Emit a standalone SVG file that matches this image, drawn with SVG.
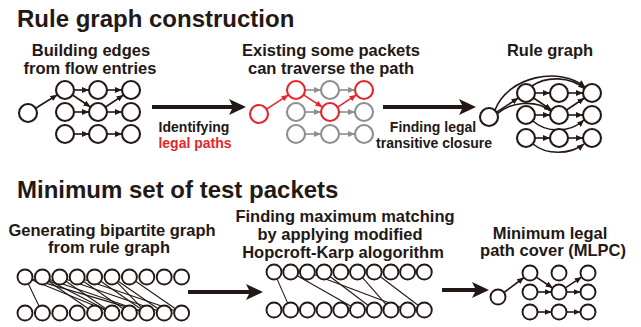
<svg xmlns="http://www.w3.org/2000/svg" width="641" height="327" viewBox="0 0 641 327">
  <style>
    text { font-family: "Liberation Sans", Arial, sans-serif; font-weight: bold; fill: #231815; }
    .title { font-size: 24px; }
    .lbl { font-size: 16.5px; text-anchor: middle; }
    .sm { font-size: 14px; text-anchor: middle; }
    .red { fill: #e8242b; }
    circle { fill: #ffffff; stroke-width: 2.1; }
    .n { stroke: #231815; }
    .nr { stroke: #e8242b; }
    .ng { stroke: #8e8e8e; }
    .nb { stroke: #231815; stroke-width: 1.9; }
    .e { stroke: #231815; stroke-width: 1.6; fill: none; marker-end: url(#ah); }
    .er { stroke: #e8242b; stroke-width: 1.6; fill: none; marker-end: url(#ahr); }
    .eg { stroke: #8e8e8e; stroke-width: 1.6; fill: none; marker-end: url(#ahg); }
    .bl { stroke: #231815; stroke-width: 1.1; }
    .shaft { stroke: #231815; stroke-width: 4.2; }
    .head { fill: #231815; }
  </style>
  <defs>
    <marker id="ah" markerUnits="userSpaceOnUse" markerWidth="7" markerHeight="6" refX="7" refY="3" orient="auto">
      <path d="M0,0 L7,3 L0,6 z" fill="#231815"/>
    </marker>
    <marker id="ahr" markerUnits="userSpaceOnUse" markerWidth="7" markerHeight="6" refX="7" refY="3" orient="auto">
      <path d="M0,0 L7,3 L0,6 z" fill="#e8242b"/>
    </marker>
    <marker id="ahg" markerUnits="userSpaceOnUse" markerWidth="7" markerHeight="6" refX="7" refY="3" orient="auto">
      <path d="M0,0 L7,3 L0,6 z" fill="#8e8e8e"/>
    </marker>
  </defs>

  <!-- section titles -->
  <text class="title" x="17" y="27">Rule graph construction</text>
  <text class="title" x="17" y="198">Minimum set of test packets</text>

  <!-- step captions -->
  <text class="lbl" x="91" y="56">Building edges</text>
  <text class="lbl" x="90" y="74">from flow entries</text>
  <text class="lbl" x="331" y="56">Existing some packets</text>
  <text class="lbl" x="331" y="74">can traverse the path</text>
  <text class="lbl" x="550" y="56">Rule graph</text>
  <text class="sm" x="194" y="132">Identifying</text>
  <text class="sm red" x="195" y="148">legal paths</text>
  <text class="sm" x="433" y="132">Finding legal</text>
  <text class="sm" x="434" y="148">transitive closure</text>
  <text class="lbl" x="112" y="236">Generating bipartite graph</text>
  <text class="lbl" x="109" y="253">from rule graph</text>
  <text class="lbl" x="345" y="222">Finding maximum matching</text>
  <text class="lbl" x="340" y="240">by applying modified</text>
  <text class="lbl" x="343" y="258">Hopcroft-Karp alogorithm</text>
  <text class="lbl" x="550" y="239">Minimum legal</text>
  <text class="lbl" x="553" y="256">path cover (MLPC)</text>

  <!-- step arrows -->
  <g id="step-arrows">
    <line class="shaft" x1="152" y1="107" x2="233" y2="107"/>
    <polygon class="head" points="229,99 246,107 229,115 233,107"/>
    <line class="shaft" x1="383" y1="107" x2="463" y2="107"/>
    <polygon class="head" points="459,99 476,107 459,115 463,107"/>
    <line class="shaft" x1="188" y1="292" x2="250" y2="292"/>
    <polygon class="head" points="246,284 263,292 246,300 250,292"/>
    <line class="shaft" x1="442" y1="290" x2="476" y2="290"/>
    <polygon class="head" points="472,282 489,290 472,298 476,290"/>
  </g>

  <!-- connectors (drawn beneath the white-filled nodes) -->
  <g id="connectors">
    <!-- graph 1 -->
    <line class="e" x1="35.6" y1="108.2" x2="57.4" y2="94.8"/>
    <line class="e" x1="74" y1="90" x2="89" y2="90"/>
    <line class="e" x1="107" y1="90" x2="122" y2="90"/>
    <line class="e" x1="72.5" y1="95" x2="90.5" y2="107"/>
    <line class="e" x1="74" y1="112" x2="89" y2="112"/>
    <line class="e" x1="105.5" y1="107" x2="123.5" y2="95"/>
    <line class="e" x1="107" y1="112" x2="122" y2="112"/>
    <line class="e" x1="74" y1="134" x2="89" y2="134"/>
    <line class="e" x1="107" y1="134" x2="122" y2="134"/>

    <!-- graph 2 -->
    <line class="er" x1="266.6" y1="109.1" x2="288.4" y2="94.9"/>
    <line class="eg" x1="305" y1="90" x2="321" y2="90"/>
    <line class="eg" x1="339" y1="90" x2="355" y2="90"/>
    <line class="er" x1="303.6" y1="94.9" x2="322.4" y2="107.1"/>
    <line class="eg" x1="305" y1="112" x2="321" y2="112"/>
    <line class="er" x1="337.6" y1="107.1" x2="356.4" y2="94.9"/>
    <line class="eg" x1="339" y1="112" x2="355" y2="112"/>
    <line class="eg" x1="305" y1="134" x2="321" y2="134"/>
    <line class="eg" x1="339" y1="134" x2="355" y2="134"/>

    <!-- graph 3 -->
    <line class="e" x1="496.6" y1="112.1" x2="518.4" y2="97.9"/>
    <line class="e" x1="535" y1="93" x2="550" y2="93"/>
    <line class="e" x1="568" y1="93" x2="583" y2="93"/>
    <line class="e" x1="533.5" y1="98" x2="551.5" y2="110"/>
    <line class="e" x1="535" y1="115" x2="550" y2="115"/>
    <line class="e" x1="566.5" y1="110" x2="584.5" y2="98"/>
    <line class="e" x1="568" y1="115" x2="583" y2="115"/>
    <line class="e" x1="535" y1="138" x2="550" y2="138"/>
    <line class="e" x1="568" y1="138" x2="583" y2="138"/>
    <path class="e" d="M495,110 C508,76 560,66 585,87"/>
    <path class="e" d="M532,86 C546,76 570,76 585,89"/>
    <path class="e" d="M497,114 C510,102 535,99 551,111"/>
    <path class="e" d="M533,121 C546,133 570,133 584,120"/>
    <path class="e" d="M533,144 C546,155 570,155 584,144"/>

    <!-- bipartite graph -->
    <line class="bl" x1="28.3" y1="283.8" x2="39.1" y2="306.2"/>
    <line class="bl" x1="31.9" y1="279.9" x2="105.1" y2="310.1"/>
    <line class="bl" x1="32.2" y1="279.1" x2="139.6" y2="310.9"/>
    <line class="bl" x1="48.6" y1="281.3" x2="88.4" y2="308.7"/>
    <line class="bl" x1="49.1" y1="280.4" x2="105.3" y2="309.6"/>
    <line class="bl" x1="49.5" y1="279.4" x2="139.7" y2="310.6"/>
    <line class="bl" x1="66" y1="281.3" x2="105.8" y2="308.7"/>
    <line class="bl" x1="66.9" y1="279.4" x2="157.1" y2="310.6"/>
    <line class="bl" x1="83.4" y1="281.3" x2="123.2" y2="308.7"/>
    <line class="bl" x1="84.3" y1="279.4" x2="174.5" y2="310.6"/>
    <line class="bl" x1="100.8" y1="281.3" x2="140.6" y2="308.7"/>
    <line class="bl" x1="117.2" y1="282.4" x2="141.6" y2="307.6"/>
    <line class="bl" x1="118.2" y1="281.3" x2="158" y2="308.7"/>
    <line class="bl" x1="135.6" y1="281.3" x2="175.4" y2="308.7"/>

    <!-- maximum matching -->
    <line class="bl" x1="277" y1="278.9" x2="287.7" y2="303.1"/>
    <line class="bl" x1="297.2" y1="275.7" x2="351" y2="306.3"/>
    <line class="bl" x1="314.4" y1="274.7" x2="400.6" y2="307.3"/>
    <line class="bl" x1="330" y1="276.5" x2="368.3" y2="305.5"/>
    <line class="bl" x1="362.5" y1="277.6" x2="386" y2="304.4"/>
    <line class="bl" x1="380.1" y1="276.5" x2="418.4" y2="305.5"/>

    <!-- minimum legal path cover -->
    <line class="e" x1="504" y1="292.5" x2="524" y2="277.5"/>
    <line class="e" x1="536.3" y1="277.1" x2="552.7" y2="288"/>
    <line class="e" x1="537.5" y1="292" x2="551.5" y2="292"/>
    <line class="e" x1="565.3" y1="287.9" x2="581.7" y2="277.1"/>
    <line class="e" x1="566.5" y1="292" x2="580.5" y2="292"/>
    <line class="e" x1="537.5" y1="312" x2="551.5" y2="312"/>
    <line class="e" x1="566.5" y1="312" x2="580.5" y2="312"/>
  </g>

  <!-- graph 1: edges built from flow entries -->
  <g id="g1-s"><circle class="n" cx="28" cy="113" r="9"/></g>
  <g id="g1-a1"><circle class="n" cx="65" cy="90" r="9"/></g>
  <g id="g1-a2"><circle class="n" cx="98" cy="90" r="9"/></g>
  <g id="g1-a3"><circle class="n" cx="131" cy="90" r="9"/></g>
  <g id="g1-b1"><circle class="n" cx="65" cy="112" r="9"/></g>
  <g id="g1-b2"><circle class="n" cx="98" cy="112" r="9"/></g>
  <g id="g1-b3"><circle class="n" cx="131" cy="112" r="9"/></g>
  <g id="g1-c1"><circle class="n" cx="65" cy="134" r="9"/></g>
  <g id="g1-c2"><circle class="n" cx="98" cy="134" r="9"/></g>
  <g id="g1-c3"><circle class="n" cx="131" cy="134" r="9"/></g>

  <!-- graph 2: legal paths -->
  <g id="g2-s"><circle class="nr" cx="259" cy="114" r="9"/></g>
  <g id="g2-a1"><circle class="nr" cx="296" cy="90" r="9"/></g>
  <g id="g2-a2"><circle class="ng" cx="330" cy="90" r="9"/></g>
  <g id="g2-a3"><circle class="nr" cx="364" cy="90" r="9"/></g>
  <g id="g2-b1"><circle class="ng" cx="296" cy="112" r="9"/></g>
  <g id="g2-b2"><circle class="nr" cx="330" cy="112" r="9"/></g>
  <g id="g2-b3"><circle class="ng" cx="364" cy="112" r="9"/></g>
  <g id="g2-c1"><circle class="ng" cx="296" cy="134" r="9"/></g>
  <g id="g2-c2"><circle class="ng" cx="330" cy="134" r="9"/></g>
  <g id="g2-c3"><circle class="ng" cx="364" cy="134" r="9"/></g>

  <!-- graph 3: rule graph -->
  <g id="g3-s"><circle class="n" cx="489" cy="117" r="9"/></g>
  <g id="g3-a1"><circle class="n" cx="526" cy="93" r="9"/></g>
  <g id="g3-a2"><circle class="n" cx="559" cy="93" r="9"/></g>
  <g id="g3-a3"><circle class="n" cx="592" cy="93" r="9"/></g>
  <g id="g3-b1"><circle class="n" cx="526" cy="115" r="9"/></g>
  <g id="g3-b2"><circle class="n" cx="559" cy="115" r="9"/></g>
  <g id="g3-b3"><circle class="n" cx="592" cy="115" r="9"/></g>
  <g id="g3-c1"><circle class="n" cx="526" cy="138" r="9"/></g>
  <g id="g3-c2"><circle class="n" cx="559" cy="138" r="9"/></g>
  <g id="g3-c3"><circle class="n" cx="592" cy="138" r="9"/></g>

  <!-- bipartite graph -->
  <g id="bp-t0"><circle class="nb" cx="25" cy="277" r="7.5"/></g>
  <g id="bp-t1"><circle class="nb" cx="42.4" cy="277" r="7.5"/></g>
  <g id="bp-t2"><circle class="nb" cx="59.8" cy="277" r="7.5"/></g>
  <g id="bp-t3"><circle class="nb" cx="77.2" cy="277" r="7.5"/></g>
  <g id="bp-t4"><circle class="nb" cx="94.6" cy="277" r="7.5"/></g>
  <g id="bp-t5"><circle class="nb" cx="112" cy="277" r="7.5"/></g>
  <g id="bp-t6"><circle class="nb" cx="129.4" cy="277" r="7.5"/></g>
  <g id="bp-t7"><circle class="nb" cx="146.8" cy="277" r="7.5"/></g>
  <g id="bp-t8"><circle class="nb" cx="164.2" cy="277" r="7.5"/></g>
  <g id="bp-t9"><circle class="nb" cx="181.6" cy="277" r="7.5"/></g>
  <g id="bp-b0"><circle class="nb" cx="25" cy="313" r="7.5"/></g>
  <g id="bp-b1"><circle class="nb" cx="42.4" cy="313" r="7.5"/></g>
  <g id="bp-b2"><circle class="nb" cx="59.8" cy="313" r="7.5"/></g>
  <g id="bp-b3"><circle class="nb" cx="77.2" cy="313" r="7.5"/></g>
  <g id="bp-b4"><circle class="nb" cx="94.6" cy="313" r="7.5"/></g>
  <g id="bp-b5"><circle class="nb" cx="112" cy="313" r="7.5"/></g>
  <g id="bp-b6"><circle class="nb" cx="129.4" cy="313" r="7.5"/></g>
  <g id="bp-b7"><circle class="nb" cx="146.8" cy="313" r="7.5"/></g>
  <g id="bp-b8"><circle class="nb" cx="164.2" cy="313" r="7.5"/></g>
  <g id="bp-b9"><circle class="nb" cx="181.6" cy="313" r="7.5"/></g>

  <!-- maximum matching -->
  <g id="mm-t0"><circle class="nb" cx="274" cy="272" r="7.5"/></g>
  <g id="mm-t1"><circle class="nb" cx="290.7" cy="272" r="7.5"/></g>
  <g id="mm-t2"><circle class="nb" cx="307.4" cy="272" r="7.5"/></g>
  <g id="mm-t3"><circle class="nb" cx="324.1" cy="272" r="7.5"/></g>
  <g id="mm-t4"><circle class="nb" cx="340.8" cy="272" r="7.5"/></g>
  <g id="mm-t5"><circle class="nb" cx="357.5" cy="272" r="7.5"/></g>
  <g id="mm-t6"><circle class="nb" cx="374.2" cy="272" r="7.5"/></g>
  <g id="mm-t7"><circle class="nb" cx="390.9" cy="272" r="7.5"/></g>
  <g id="mm-t8"><circle class="nb" cx="407.6" cy="272" r="7.5"/></g>
  <g id="mm-t9"><circle class="nb" cx="424.3" cy="272" r="7.5"/></g>
  <g id="mm-b0"><circle class="nb" cx="274" cy="310" r="7.5"/></g>
  <g id="mm-b1"><circle class="nb" cx="290.7" cy="310" r="7.5"/></g>
  <g id="mm-b2"><circle class="nb" cx="307.4" cy="310" r="7.5"/></g>
  <g id="mm-b3"><circle class="nb" cx="324.1" cy="310" r="7.5"/></g>
  <g id="mm-b4"><circle class="nb" cx="340.8" cy="310" r="7.5"/></g>
  <g id="mm-b5"><circle class="nb" cx="357.5" cy="310" r="7.5"/></g>
  <g id="mm-b6"><circle class="nb" cx="374.2" cy="310" r="7.5"/></g>
  <g id="mm-b7"><circle class="nb" cx="390.9" cy="310" r="7.5"/></g>
  <g id="mm-b8"><circle class="nb" cx="407.6" cy="310" r="7.5"/></g>
  <g id="mm-b9"><circle class="nb" cx="424.3" cy="310" r="7.5"/></g>

  <!-- minimum legal path cover -->
  <g id="pc-s"><circle class="nb" cx="498" cy="297" r="7.5"/></g>
  <g id="pc-a1"><circle class="nb" cx="530" cy="273" r="7.5"/></g>
  <g id="pc-a2"><circle class="nb" cx="559" cy="273" r="7.5"/></g>
  <g id="pc-a3"><circle class="nb" cx="588" cy="273" r="7.5"/></g>
  <g id="pc-b1"><circle class="nb" cx="530" cy="292" r="7.5"/></g>
  <g id="pc-b2"><circle class="nb" cx="559" cy="292" r="7.5"/></g>
  <g id="pc-b3"><circle class="nb" cx="588" cy="292" r="7.5"/></g>
  <g id="pc-c1"><circle class="nb" cx="530" cy="312" r="7.5"/></g>
  <g id="pc-c2"><circle class="nb" cx="559" cy="312" r="7.5"/></g>
  <g id="pc-c3"><circle class="nb" cx="588" cy="312" r="7.5"/></g>
</svg>
